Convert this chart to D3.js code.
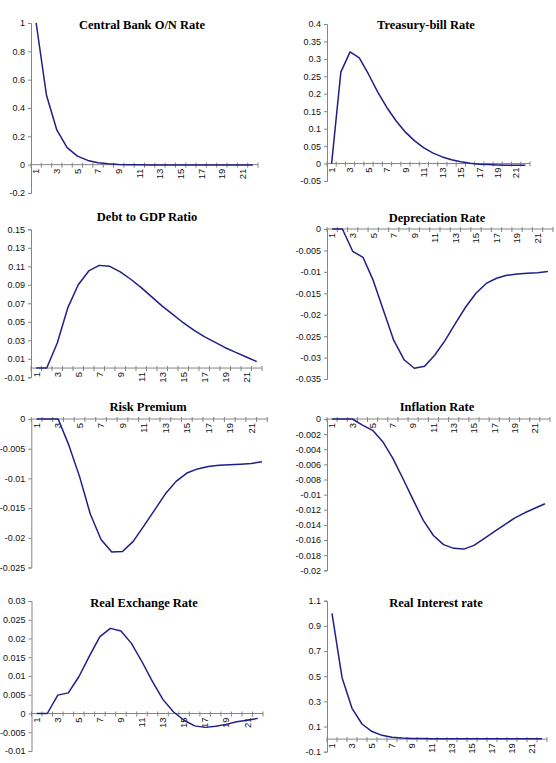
<!DOCTYPE html>
<html>
<head>
<meta charset="utf-8">
<script src="https://cdn.jsdelivr.net/npm/d3@7"></script>
<style>
  html, body { margin: 0; padding: 0; background: #fff; }
  svg { display: block; }
</style>
</head>
<body>
<svg id="chart" width="556" height="763"></svg>
<script>
// ---------- DATA ----------
const periods = [1,2,3,4,5,6,7,8,9,10,11,12,13,14,15,16,17,18,19,20,21,22];
const xTickLabels = [1,3,5,7,9,11,13,15,17,19,21];

const centralBankRate = [1.0,0.49,0.245,0.12,0.06,0.03,0.014,0.006,0.002,0.0,-0.001,-0.002,-0.002,-0.003,-0.003,-0.003,-0.003,-0.003,-0.003,-0.003,-0.003,-0.003];
const treasuryBillRate = [0.0,0.262,0.32,0.303,0.256,0.205,0.16,0.122,0.09,0.065,0.045,0.03,0.019,0.011,0.005,0.001,-0.002,-0.003,-0.004,-0.005,-0.005,-0.005];
const debtToGdp = [0.0,0.0,0.027,0.065,0.09,0.105,0.111,0.110,0.104,0.096,0.087,0.077,0.067,0.058,0.049,0.041,0.034,0.028,0.022,0.017,0.012,0.007];
const depreciationRate = [0.0,0.0,-0.0052,-0.0066,-0.012,-0.019,-0.026,-0.0305,-0.0325,-0.032,-0.0294,-0.026,-0.022,-0.0182,-0.015,-0.0127,-0.0115,-0.0108,-0.0105,-0.0103,-0.0102,-0.0099];
const riskPremium = [0.0,0.0,0.0,-0.0044,-0.0097,-0.016,-0.0203,-0.0224,-0.0223,-0.0206,-0.018,-0.0153,-0.0126,-0.0105,-0.0091,-0.0084,-0.008,-0.0078,-0.0077,-0.0076,-0.0075,-0.0072];
const inflationRate = [0.0,0.0,0.0,-0.0008,-0.0015,-0.003,-0.0052,-0.0079,-0.0107,-0.0134,-0.0154,-0.0166,-0.0171,-0.0172,-0.0167,-0.0158,-0.0149,-0.014,-0.0131,-0.0124,-0.0118,-0.0112];
const realExchangeRate = [0.0,0.0,0.0049,0.0055,0.0098,0.0153,0.0205,0.0227,0.022,0.0187,0.0138,0.0085,0.0037,0.0004,-0.0018,-0.0033,-0.0037,-0.0034,-0.0029,-0.0022,-0.0018,-0.0013];
const realInterestRate = [1.0,0.49,0.245,0.12,0.06,0.03,0.015,0.008,0.005,0.004,0.003,0.003,0.003,0.003,0.002,0.002,0.002,0.002,0.002,0.002,0.002,0.002];

const yTicksCentralBank = [-0.2,0,0.2,0.4,0.6,0.8,1];
const yTicksTreasury = [-0.05,0,0.05,0.1,0.15,0.2,0.25,0.3,0.35,0.4];
const yTicksDebt = [-0.01,0.01,0.03,0.05,0.07,0.09,0.11,0.13,0.15];
const yTicksDepreciation = [-0.035,-0.03,-0.025,-0.02,-0.015,-0.01,-0.005,0];
const yTicksRisk = [-0.025,-0.02,-0.015,-0.01,-0.005,0];
const yTicksInflation = [-0.02,-0.018,-0.016,-0.014,-0.012,-0.01,-0.008,-0.006,-0.004,-0.002,0];
const yTicksExchange = [-0.01,-0.005,0,0.005,0.01,0.015,0.02,0.025,0.03];
const yTicksInterest = [-0.1,0.1,0.3,0.5,0.7,0.9,1.1];

const titles = ["Central Bank O/N Rate","Treasury-bill Rate","Debt to GDP Ratio","Depreciation Rate","Risk Premium","Inflation Rate","Real Exchange Rate","Real Interest rate"];

// ---------- LAYOUT ----------
const panels = [
  {title: titles[0], values: centralBankRate, ticks: yTicksCentralBank, x0: 31, w: 227, yTop: 23, yBot: 193, tx: 142, ty: 29},
  {title: titles[1], values: treasuryBillRate, ticks: yTicksTreasury, x0: 327, w: 203, yTop: 24, yBot: 181, tx: 426, ty: 29},
  {title: titles[2], values: debtToGdp, ticks: yTicksDebt, x0: 31, w: 231, yTop: 229.3, yBot: 377.3, tx: 147, ty: 221},
  {title: titles[3], values: depreciationRate, ticks: yTicksDepreciation, x0: 327, w: 226, yTop: 229, yBot: 379, tx: 437, ty: 222},
  {title: titles[4], values: riskPremium, ticks: yTicksRisk, x0: 31.3, w: 236, yTop: 419, yBot: 567.5, tx: 148, ty: 411},
  {title: titles[5], values: inflationRate, ticks: yTicksInflation, x0: 327, w: 223, yTop: 419, yBot: 570.3, tx: 437, ty: 411},
  {title: titles[6], values: realExchangeRate, ticks: yTicksExchange, x0: 31.5, w: 231.5, yTop: 601, yBot: 751, tx: 144, ty: 607},
  {title: titles[7], values: realInterestRate, ticks: yTicksInterest, x0: 327, w: 220, yTop: 600.7, yBot: 751.7, tx: 436, ty: 607}
];

const axisColor = "#858585";
const lineColor = "#1f1f85";
const svg = d3.select("#chart");

panels.forEach(p => {
  const g = svg.append("g");
  const y = d3.scaleLinear()
    .domain([d3.min(p.ticks), d3.max(p.ticks)])
    .range([p.yBot, p.yTop]);
  const x = d3.scaleBand().domain(periods).range([p.x0, p.x0 + p.w]).padding(0);
  const bw = x.bandwidth();

  // Y axis
  const yAxis = d3.axisLeft(y).tickValues(p.ticks).tickSize(3).tickPadding(3)
    .tickFormat(d => String(d));
  const ya = g.append("g").attr("transform", `translate(${p.x0},0)`).call(yAxis);
  ya.select(".domain").attr("stroke", axisColor).attr("stroke-width", 1);
  ya.selectAll(".tick line").attr("stroke", axisColor);
  ya.selectAll(".tick text")
    .attr("fill", "#111")
    .style("font-family", "'Liberation Sans', Arial, sans-serif")
    .style("font-size", "9px");

  // X axis at zero
  const y0 = y(0);
  g.append("line")
    .attr("x1", p.x0).attr("x2", p.x0 + p.w)
    .attr("y1", y0).attr("y2", y0)
    .attr("stroke", axisColor).attr("stroke-width", 1);
  const edges = periods.map(d => x(d)).concat([p.x0 + p.w]);
  g.selectAll(".xtick").data(edges).enter().append("line")
    .attr("x1", d => d).attr("x2", d => d)
    .attr("y1", y0 - 2).attr("y2", y0 + 3)
    .attr("stroke", axisColor).attr("stroke-width", 1);
  g.selectAll(".xlabel").data(xTickLabels).enter().append("text")
    .attr("transform", d => `translate(${x(d) + bw / 2},${y0 + 4}) rotate(-90)`)
    .attr("text-anchor", "end")
    .attr("dy", "0.35em")
    .attr("fill", "#111")
    .style("font-family", "'Liberation Sans', Arial, sans-serif")
    .style("font-size", "9.5px")
    .text(d => d);

  // Line
  const line = d3.line()
    .x((d, i) => x(periods[i]) + bw / 2)
    .y(d => y(d));
  g.append("path")
    .datum(p.values)
    .attr("d", line)
    .attr("fill", "none")
    .attr("stroke", lineColor)
    .attr("stroke-width", 1.5)
    .attr("stroke-linejoin", "round");

  // Title
  g.append("text")
    .attr("x", p.tx).attr("y", p.ty)
    .attr("text-anchor", "middle")
    .style("font-family", "'Liberation Serif', 'Times New Roman', serif")
    .style("font-weight", "bold")
    .style("font-size", "12.5px")
    .attr("fill", "#000")
    .text(p.title);
});
</script>
</body>
</html>
